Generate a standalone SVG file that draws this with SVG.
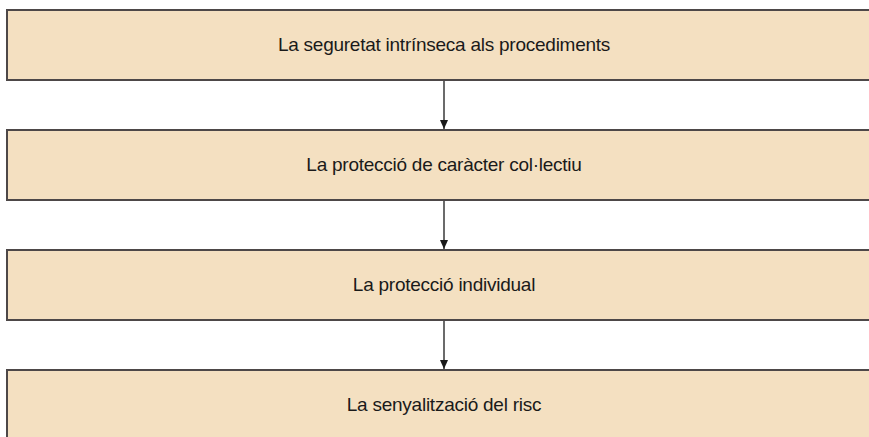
<svg xmlns="http://www.w3.org/2000/svg" width="869" height="437" viewBox="0 0 869 437">
<style>
.box{fill:#f4e0c1;stroke:#4d4848;stroke-width:2}
.lbl{font-family:"Liberation Sans",Arial,sans-serif;font-size:19px;letter-spacing:-0.25px;fill:#1a1a1a;text-anchor:middle}
.conn{stroke:#3a3a3a;stroke-width:1.5;fill:none;marker-end:url(#ah)}
</style>
<defs>
<marker id="ah" markerWidth="10" markerHeight="10" refX="9" refY="4" orient="auto" markerUnits="userSpaceOnUse">
<path d="M0,0 L9,4 L0,8 z" fill="#1a1a1a"/>
</marker>
</defs>
<rect width="869" height="437" fill="#fff"/>
<g id="n1"><rect class="box" x="7" y="10" width="872" height="70"/><text class="lbl" x="444" y="51">La seguretat intrínseca als procediments</text></g>
<g id="n2"><rect class="box" x="7" y="130" width="872" height="70"/><text class="lbl" x="444" y="171">La protecció de caràcter col·lectiu</text></g>
<g id="n3"><rect class="box" x="7" y="250" width="872" height="70"/><text class="lbl" x="444" y="291">La protecció individual</text></g>
<g id="n4"><rect class="box" x="7" y="370" width="872" height="80"/><text class="lbl" x="444" y="411">La senyalització del risc</text></g>
<g id="connectors">
<path class="conn" d="M444,81 L444,129"/>
<path class="conn" d="M444,201 L444,249"/>
<path class="conn" d="M444,321 L444,369"/>
</g>
</svg>
